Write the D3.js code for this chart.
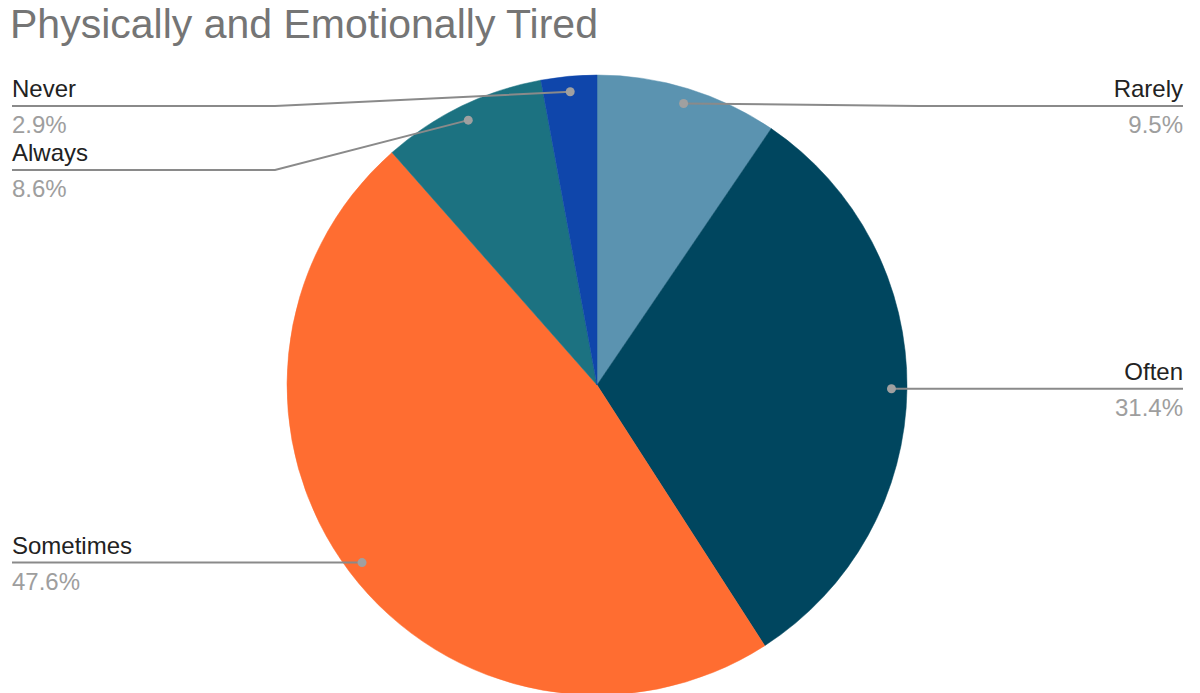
<!DOCTYPE html>
<html>
<head>
<meta charset="utf-8">
<script src="https://cdn.jsdelivr.net/npm/d3@7"></script>
<style>
  html, body { margin: 0; padding: 0; background: #fff; }
  svg { display: block; font-family: "Liberation Sans", Arial, sans-serif; }
</style>
</head>
<body>
<svg id="chart" width="1200" height="693"></svg>
<script>
// Responses, in clockwise order from 12 o'clock
const categories = ["Rarely", "Often", "Sometimes", "Always", "Never"];
const values = [9.5, 31.4, 47.6, 8.6, 2.9];
const colors = ["#5b93b0", "#00465f", "#ff6d31", "#1c7281", "#0f46ab"];
const chartTitle = "Physically and Emotionally Tired";

const W = 1200, H = 693;
const cx = 597, cy = 385, R = 310;

const svg = d3.select("#chart");

svg.append("text")
  .attr("x", 10).attr("y", 38)
  .attr("font-size", 41)
  .attr("fill", "#757575")
  .text(chartTitle);

const data = categories.map((c, i) => ({ name: c, value: values[i], color: colors[i] }));

const pie = d3.pie().value(d => d.value).sort(null);
const arcs = pie(data);
const arc = d3.arc().innerRadius(0).outerRadius(R);
const dotArc = d3.arc().innerRadius(R * 0.95).outerRadius(R * 0.95);

const g = svg.append("g").attr("transform", `translate(${cx},${cy})`);

g.selectAll("path.slice")
  .data(arcs)
  .join("path")
  .attr("class", "slice")
  .attr("d", arc)
  .attr("fill", d => d.data.color)
  .attr("stroke", d => d.data.color)
  .attr("stroke-width", 0.5);

// Leader label placement: dot on slice, elbow, then horizontal run to the margin
const minLineY = 106, gap = 64;
const leftEnd = 12, rightEnd = 1183, elbowOff = 322;

const items = arcs.map(a => {
  const [dx, dy] = dotArc.centroid(a);
  const mid = (a.startAngle + a.endAngle) / 2;
  return { a, dotX: cx + dx, dotY: cy + dy, side: mid < Math.PI ? "right" : "left" };
});

["left", "right"].forEach(side => {
  const list = items.filter(d => d.side === side).sort((p, q) => p.dotY - q.dotY);
  let prev = -Infinity;
  list.forEach(d => {
    d.lineY = Math.max(d.dotY, minLineY, prev + gap);
    prev = d.lineY;
  });
});

const lab = svg.append("g");
items.forEach(d => {
  const left = d.side === "left";
  const endX = left ? leftEnd : rightEnd;
  const elbowX = left ? cx - elbowOff : cx + elbowOff;
  lab.append("polyline")
    .attr("points", [[d.dotX, d.dotY], [elbowX, d.lineY], [endX, d.lineY]].map(p => p.join(",")).join(" "))
    .attr("fill", "none")
    .attr("stroke", "#8a8a8a")
    .attr("stroke-width", 2);
  lab.append("circle")
    .attr("cx", d.dotX).attr("cy", d.dotY).attr("r", 4.5)
    .attr("fill", "#a0a0a0");
  lab.append("text")
    .attr("x", endX).attr("y", d.lineY - 9)
    .attr("text-anchor", left ? "start" : "end")
    .attr("font-size", 24)
    .attr("fill", "#222222")
    .text(d.a.data.name);
  lab.append("text")
    .attr("x", endX).attr("y", d.lineY + 27)
    .attr("text-anchor", left ? "start" : "end")
    .attr("font-size", 24)
    .attr("fill", "#9e9e9e")
    .text(d.a.data.value.toFixed(1) + "%");
});
</script>
</body>
</html>
